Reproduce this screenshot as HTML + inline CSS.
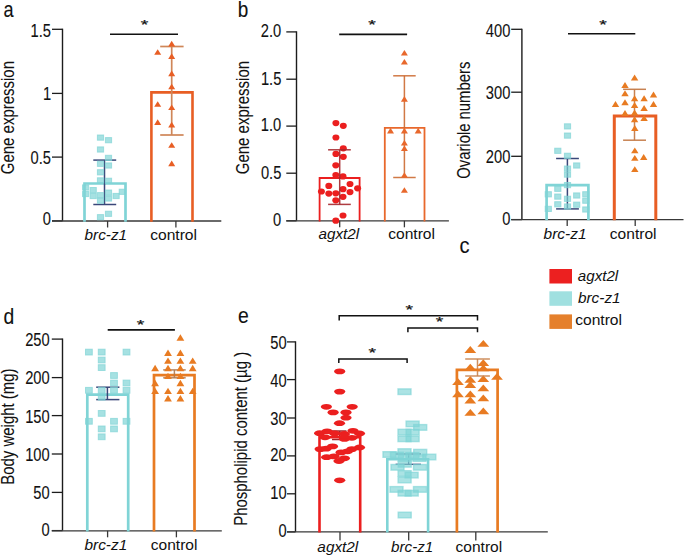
<!DOCTYPE html><html><head><meta charset="utf-8"><style>html,body{margin:0;padding:0;background:#fff;overflow:hidden}svg{display:block}</style></head><body><svg width="685" height="556" viewBox="0 0 685 556" font-family='"Liberation Sans", sans-serif'>
<rect width="685" height="556" fill="#fff"/>
<line x1="62.50" y1="28.70" x2="62.50" y2="220.90" stroke="#1c1c1c" stroke-width="1.4"/>
<line x1="52.00" y1="29.30" x2="62.50" y2="29.30" stroke="#1c1c1c" stroke-width="1.3"/>
<text transform="translate(30.58,36.50) scale(0.8400,1)" font-size="17.5" fill="#111" stroke="#111" stroke-width="0.1">1.5</text>
<line x1="52.00" y1="93.40" x2="62.50" y2="93.40" stroke="#1c1c1c" stroke-width="1.3"/>
<text transform="translate(42.95,100.40) scale(0.8400,1)" font-size="17.5" fill="#111" stroke="#111" stroke-width="0.1">1</text>
<line x1="52.00" y1="157.10" x2="62.50" y2="157.10" stroke="#1c1c1c" stroke-width="1.3"/>
<text transform="translate(30.58,163.80) scale(0.8400,1)" font-size="17.5" fill="#111" stroke="#111" stroke-width="0.1">0.5</text>
<line x1="52.00" y1="220.90" x2="62.50" y2="220.90" stroke="#1c1c1c" stroke-width="1.3"/>
<text transform="translate(42.80,225.40) scale(0.8400,1)" font-size="17.5" fill="#111" stroke="#111" stroke-width="0.1">0</text>
<line x1="52.00" y1="221.00" x2="221.30" y2="221.00" stroke="#383838" stroke-width="1.3"/>
<line x1="107.60" y1="221.00" x2="107.60" y2="227.50" stroke="#383838" stroke-width="1.3"/>
<line x1="175.90" y1="221.00" x2="175.90" y2="227.50" stroke="#383838" stroke-width="1.3"/>
<line x1="296.50" y1="31.30" x2="296.50" y2="220.80" stroke="#1c1c1c" stroke-width="1.4"/>
<line x1="286.30" y1="31.90" x2="296.50" y2="31.90" stroke="#1c1c1c" stroke-width="1.3"/>
<text transform="translate(260.84,36.50) scale(0.8400,1)" font-size="17.5" fill="#111" stroke="#111" stroke-width="0.1">2.0</text>
<line x1="286.30" y1="79.20" x2="296.50" y2="79.20" stroke="#1c1c1c" stroke-width="1.3"/>
<text transform="translate(260.88,84.60) scale(0.8400,1)" font-size="17.5" fill="#111" stroke="#111" stroke-width="0.1">1.5</text>
<line x1="286.30" y1="126.10" x2="296.50" y2="126.10" stroke="#1c1c1c" stroke-width="1.3"/>
<text transform="translate(260.84,131.10) scale(0.8400,1)" font-size="17.5" fill="#111" stroke="#111" stroke-width="0.1">1.0</text>
<line x1="286.30" y1="173.20" x2="296.50" y2="173.20" stroke="#1c1c1c" stroke-width="1.3"/>
<text transform="translate(260.88,178.70) scale(0.8400,1)" font-size="17.5" fill="#111" stroke="#111" stroke-width="0.1">0.5</text>
<line x1="286.30" y1="220.80" x2="296.50" y2="220.80" stroke="#1c1c1c" stroke-width="1.3"/>
<text transform="translate(273.10,225.70) scale(0.8400,1)" font-size="17.5" fill="#111" stroke="#111" stroke-width="0.1">0</text>
<line x1="286.30" y1="220.80" x2="448.90" y2="220.80" stroke="#383838" stroke-width="1.3"/>
<line x1="339.70" y1="220.80" x2="339.70" y2="227.30" stroke="#383838" stroke-width="1.3"/>
<line x1="404.40" y1="220.80" x2="404.40" y2="227.30" stroke="#383838" stroke-width="1.3"/>
<line x1="521.90" y1="28.70" x2="521.90" y2="219.60" stroke="#1c1c1c" stroke-width="1.4"/>
<line x1="511.20" y1="29.30" x2="521.90" y2="29.30" stroke="#1c1c1c" stroke-width="1.3"/>
<text transform="translate(485.85,36.50) scale(0.8400,1)" font-size="17.5" fill="#111" stroke="#111" stroke-width="0.1">400</text>
<line x1="511.20" y1="92.20" x2="521.90" y2="92.20" stroke="#1c1c1c" stroke-width="1.3"/>
<text transform="translate(485.85,99.10) scale(0.8400,1)" font-size="17.5" fill="#111" stroke="#111" stroke-width="0.1">300</text>
<line x1="511.20" y1="156.30" x2="521.90" y2="156.30" stroke="#1c1c1c" stroke-width="1.3"/>
<text transform="translate(485.85,163.40) scale(0.8400,1)" font-size="17.5" fill="#111" stroke="#111" stroke-width="0.1">200</text>
<line x1="511.20" y1="219.60" x2="521.90" y2="219.60" stroke="#1c1c1c" stroke-width="1.3"/>
<text transform="translate(502.20,224.70) scale(0.8400,1)" font-size="17.5" fill="#111" stroke="#111" stroke-width="0.1">0</text>
<line x1="511.20" y1="219.60" x2="683.50" y2="219.60" stroke="#383838" stroke-width="1.3"/>
<line x1="567.20" y1="219.60" x2="567.20" y2="226.10" stroke="#383838" stroke-width="1.3"/>
<line x1="635.20" y1="219.60" x2="635.20" y2="226.10" stroke="#383838" stroke-width="1.3"/>
<line x1="62.50" y1="338.50" x2="62.50" y2="530.60" stroke="#1c1c1c" stroke-width="1.4"/>
<line x1="51.80" y1="339.10" x2="62.50" y2="339.10" stroke="#1c1c1c" stroke-width="1.3"/>
<text transform="translate(25.15,345.80) scale(0.8400,1)" font-size="17.5" fill="#111" stroke="#111" stroke-width="0.1">250</text>
<line x1="51.80" y1="377.60" x2="62.50" y2="377.60" stroke="#1c1c1c" stroke-width="1.3"/>
<text transform="translate(25.15,384.10) scale(0.8400,1)" font-size="17.5" fill="#111" stroke="#111" stroke-width="0.1">200</text>
<line x1="51.80" y1="415.60" x2="62.50" y2="415.60" stroke="#1c1c1c" stroke-width="1.3"/>
<text transform="translate(25.15,422.80) scale(0.8400,1)" font-size="17.5" fill="#111" stroke="#111" stroke-width="0.1">150</text>
<line x1="51.80" y1="454.00" x2="62.50" y2="454.00" stroke="#1c1c1c" stroke-width="1.3"/>
<text transform="translate(25.15,460.50) scale(0.8400,1)" font-size="17.5" fill="#111" stroke="#111" stroke-width="0.1">100</text>
<line x1="51.80" y1="492.40" x2="62.50" y2="492.40" stroke="#1c1c1c" stroke-width="1.3"/>
<text transform="translate(33.33,499.20) scale(0.8400,1)" font-size="17.5" fill="#111" stroke="#111" stroke-width="0.1">50</text>
<line x1="51.80" y1="530.60" x2="62.50" y2="530.60" stroke="#1c1c1c" stroke-width="1.3"/>
<text transform="translate(41.50,536.20) scale(0.8400,1)" font-size="17.5" fill="#111" stroke="#111" stroke-width="0.1">0</text>
<line x1="51.80" y1="530.80" x2="221.80" y2="530.80" stroke="#383838" stroke-width="1.3"/>
<line x1="107.60" y1="530.80" x2="107.60" y2="537.30" stroke="#383838" stroke-width="1.3"/>
<line x1="176.40" y1="530.80" x2="176.40" y2="537.30" stroke="#383838" stroke-width="1.3"/>
<line x1="295.50" y1="341.30" x2="295.50" y2="531.90" stroke="#1c1c1c" stroke-width="1.4"/>
<line x1="287.00" y1="341.90" x2="295.50" y2="341.90" stroke="#1c1c1c" stroke-width="1.3"/>
<text transform="translate(270.23,348.50) scale(0.8400,1)" font-size="17.5" fill="#111" stroke="#111" stroke-width="0.1">50</text>
<line x1="287.00" y1="379.60" x2="295.50" y2="379.60" stroke="#1c1c1c" stroke-width="1.3"/>
<text transform="translate(270.23,386.80) scale(0.8400,1)" font-size="17.5" fill="#111" stroke="#111" stroke-width="0.1">40</text>
<line x1="287.00" y1="418.00" x2="295.50" y2="418.00" stroke="#1c1c1c" stroke-width="1.3"/>
<text transform="translate(270.23,424.90) scale(0.8400,1)" font-size="17.5" fill="#111" stroke="#111" stroke-width="0.1">30</text>
<line x1="287.00" y1="455.90" x2="295.50" y2="455.90" stroke="#1c1c1c" stroke-width="1.3"/>
<text transform="translate(270.23,461.10) scale(0.8400,1)" font-size="17.5" fill="#111" stroke="#111" stroke-width="0.1">20</text>
<line x1="287.00" y1="493.80" x2="295.50" y2="493.80" stroke="#1c1c1c" stroke-width="1.3"/>
<text transform="translate(270.23,499.10) scale(0.8400,1)" font-size="17.5" fill="#111" stroke="#111" stroke-width="0.1">10</text>
<line x1="287.00" y1="531.90" x2="295.50" y2="531.90" stroke="#1c1c1c" stroke-width="1.3"/>
<text transform="translate(278.40,536.70) scale(0.8400,1)" font-size="17.5" fill="#111" stroke="#111" stroke-width="0.1">0</text>
<line x1="287.00" y1="531.90" x2="547.80" y2="531.90" stroke="#383838" stroke-width="1.3"/>
<line x1="340.00" y1="531.90" x2="340.00" y2="540.40" stroke="#383838" stroke-width="1.3"/>
<line x1="408.70" y1="531.90" x2="408.70" y2="540.40" stroke="#383838" stroke-width="1.3"/>
<line x1="475.80" y1="531.90" x2="475.80" y2="540.40" stroke="#383838" stroke-width="1.3"/>
<text transform="translate(3.54,16.80) scale(0.8224,1)" font-size="22" fill="#111" stroke="#111" stroke-width="0.1" style="">a</text>
<text transform="translate(14.30,174.25) rotate(-90) scale(0.8566,1)" font-size="17.5" fill="#111" stroke="#111" stroke-width="0.1">Gene expression</text>
<path d="M84.5,221.7 L84.5,183.5 L125.5,183.5 L125.5,221.7" fill="none" stroke="#80D4D6" stroke-width="2.7"/>
<line x1="104.50" y1="160.10" x2="104.50" y2="204.50" stroke="#3A4779" stroke-width="1.5"/>
<line x1="93.30" y1="160.10" x2="116.20" y2="160.10" stroke="#3A4779" stroke-width="1.5"/>
<line x1="93.30" y1="204.50" x2="116.20" y2="204.50" stroke="#3A4779" stroke-width="1.5"/>
<rect x="97.40" y="135.00" width="6.20" height="5.20" fill="#80D4D6" fill-opacity="0.7" stroke="#80D4D6" stroke-width="1.0" stroke-opacity="0.7"/>
<rect x="105.40" y="137.60" width="6.20" height="5.20" fill="#80D4D6" fill-opacity="0.7" stroke="#80D4D6" stroke-width="1.0" stroke-opacity="0.7"/>
<rect x="97.40" y="146.90" width="6.20" height="5.20" fill="#80D4D6" fill-opacity="0.7" stroke="#80D4D6" stroke-width="1.0" stroke-opacity="0.7"/>
<rect x="105.40" y="155.30" width="6.20" height="5.20" fill="#80D4D6" fill-opacity="0.7" stroke="#80D4D6" stroke-width="1.0" stroke-opacity="0.7"/>
<rect x="97.40" y="161.20" width="6.20" height="5.20" fill="#80D4D6" fill-opacity="0.7" stroke="#80D4D6" stroke-width="1.0" stroke-opacity="0.7"/>
<rect x="105.40" y="162.90" width="6.20" height="5.20" fill="#80D4D6" fill-opacity="0.7" stroke="#80D4D6" stroke-width="1.0" stroke-opacity="0.7"/>
<rect x="97.40" y="169.70" width="6.20" height="5.20" fill="#80D4D6" fill-opacity="0.7" stroke="#80D4D6" stroke-width="1.0" stroke-opacity="0.7"/>
<rect x="97.40" y="177.80" width="6.20" height="5.20" fill="#80D4D6" fill-opacity="0.7" stroke="#80D4D6" stroke-width="1.0" stroke-opacity="0.7"/>
<rect x="105.40" y="178.20" width="6.20" height="5.20" fill="#80D4D6" fill-opacity="0.7" stroke="#80D4D6" stroke-width="1.0" stroke-opacity="0.7"/>
<rect x="82.50" y="184.90" width="6.20" height="5.20" fill="#80D4D6" fill-opacity="0.7" stroke="#80D4D6" stroke-width="1.0" stroke-opacity="0.7"/>
<rect x="82.50" y="191.40" width="6.20" height="5.20" fill="#80D4D6" fill-opacity="0.7" stroke="#80D4D6" stroke-width="1.0" stroke-opacity="0.7"/>
<rect x="90.10" y="187.50" width="6.20" height="5.20" fill="#80D4D6" fill-opacity="0.7" stroke="#80D4D6" stroke-width="1.0" stroke-opacity="0.7"/>
<rect x="90.10" y="193.40" width="6.20" height="5.20" fill="#80D4D6" fill-opacity="0.7" stroke="#80D4D6" stroke-width="1.0" stroke-opacity="0.7"/>
<rect x="97.40" y="192.60" width="6.20" height="5.20" fill="#80D4D6" fill-opacity="0.7" stroke="#80D4D6" stroke-width="1.0" stroke-opacity="0.7"/>
<rect x="97.40" y="198.10" width="6.20" height="5.20" fill="#80D4D6" fill-opacity="0.7" stroke="#80D4D6" stroke-width="1.0" stroke-opacity="0.7"/>
<rect x="105.40" y="190.00" width="6.20" height="5.20" fill="#80D4D6" fill-opacity="0.7" stroke="#80D4D6" stroke-width="1.0" stroke-opacity="0.7"/>
<rect x="105.40" y="195.90" width="6.20" height="5.20" fill="#80D4D6" fill-opacity="0.7" stroke="#80D4D6" stroke-width="1.0" stroke-opacity="0.7"/>
<rect x="113.00" y="193.40" width="6.20" height="5.20" fill="#80D4D6" fill-opacity="0.7" stroke="#80D4D6" stroke-width="1.0" stroke-opacity="0.7"/>
<rect x="119.20" y="189.20" width="6.20" height="5.20" fill="#80D4D6" fill-opacity="0.7" stroke="#80D4D6" stroke-width="1.0" stroke-opacity="0.7"/>
<rect x="97.40" y="214.60" width="6.20" height="5.20" fill="#80D4D6" fill-opacity="0.7" stroke="#80D4D6" stroke-width="1.0" stroke-opacity="0.7"/>
<rect x="105.40" y="211.20" width="6.20" height="5.20" fill="#80D4D6" fill-opacity="0.7" stroke="#80D4D6" stroke-width="1.0" stroke-opacity="0.7"/>
<path d="M151.4,221.7 L151.4,92.4 L192.5,92.4 L192.5,221.7" fill="none" stroke="#E85E24" stroke-width="2.6"/>
<line x1="171.70" y1="46.50" x2="171.70" y2="135.00" stroke="#CF8658" stroke-width="1.7"/>
<line x1="160.20" y1="46.50" x2="183.60" y2="46.50" stroke="#CF8658" stroke-width="1.7"/>
<line x1="160.20" y1="135.00" x2="183.60" y2="135.00" stroke="#CF8658" stroke-width="1.7"/>
<polygon points="168.2,46.4 175.2,46.4 171.7,40.8" fill="#E85E24"/>
<polygon points="154.2,54.8 161.2,54.8 157.7,49.2" fill="#E85E24"/>
<polygon points="168.2,58.9 175.2,58.9 171.7,53.3" fill="#E85E24"/>
<polygon points="168.2,76.2 175.2,76.2 171.7,70.6" fill="#E85E24"/>
<polygon points="168.2,89.3 175.2,89.3 171.7,83.7" fill="#E85E24"/>
<polygon points="154.2,106.8 161.2,106.8 157.7,101.2" fill="#E85E24"/>
<polygon points="168.2,110.1 175.2,110.1 171.7,104.5" fill="#E85E24"/>
<polygon points="154.2,124.9 161.2,124.9 157.7,119.3" fill="#E85E24"/>
<polygon points="168.2,127.4 175.2,127.4 171.7,121.8" fill="#E85E24"/>
<polygon points="168.2,147.8 175.2,147.8 171.7,142.2" fill="#E85E24"/>
<polygon points="168.2,166.2 175.2,166.2 171.7,160.6" fill="#E85E24"/>
<line x1="110.00" y1="34.30" x2="178.00" y2="34.30" stroke="#111" stroke-width="1.6"/>
<text transform="translate(140.64,28.78) scale(0.966,0.613)" font-size="20.0" fill="#111" stroke="#111" stroke-width="0.35">*</text>
<text transform="translate(84.59,239.60) scale(0.9874,1)" font-size="15.5" fill="#111" style="font-style:italic;">brc-z1</text>
<text transform="translate(150.14,239.90) scale(1.0083,1)" font-size="15.5" fill="#111" style="">control</text>
<text transform="translate(237.87,16.60) scale(0.8605,1)" font-size="22" fill="#111" stroke="#111" stroke-width="0.1" style="">b</text>
<text transform="translate(248.50,174.25) rotate(-90) scale(0.8573,1)" font-size="17.5" fill="#111" stroke="#111" stroke-width="0.1">Gene expression</text>
<path d="M319.6,221.39999999999998 L319.6,178 L359.6,178 L359.6,221.39999999999998" fill="none" stroke="#EB1F1F" stroke-width="1.8"/>
<ellipse cx="335.9" cy="123.1" rx="3.5" ry="3.1" fill="#EB1F1F"/>
<ellipse cx="343.3" cy="125.8" rx="3.5" ry="3.1" fill="#EB1F1F"/>
<ellipse cx="335.9" cy="137.5" rx="3.5" ry="3.1" fill="#EB1F1F"/>
<ellipse cx="343.3" cy="148.3" rx="3.5" ry="3.1" fill="#EB1F1F"/>
<ellipse cx="335.9" cy="153.9" rx="3.5" ry="3.1" fill="#EB1F1F"/>
<ellipse cx="343.3" cy="156.8" rx="3.5" ry="3.1" fill="#EB1F1F"/>
<ellipse cx="335.8" cy="165.3" rx="3.5" ry="3.1" fill="#EB1F1F"/>
<ellipse cx="335.8" cy="175.0" rx="3.5" ry="3.1" fill="#EB1F1F"/>
<ellipse cx="343.0" cy="176.4" rx="3.5" ry="3.1" fill="#EB1F1F"/>
<ellipse cx="328.8" cy="185.9" rx="3.5" ry="3.1" fill="#EB1F1F"/>
<ellipse cx="350.0" cy="184.0" rx="3.5" ry="3.1" fill="#EB1F1F"/>
<ellipse cx="321.4" cy="191.5" rx="3.5" ry="3.1" fill="#EB1F1F"/>
<ellipse cx="328.8" cy="193.6" rx="3.5" ry="3.1" fill="#EB1F1F"/>
<ellipse cx="335.8" cy="193.3" rx="3.5" ry="3.1" fill="#EB1F1F"/>
<ellipse cx="343.0" cy="189.2" rx="3.5" ry="3.1" fill="#EB1F1F"/>
<ellipse cx="350.0" cy="192.1" rx="3.5" ry="3.1" fill="#EB1F1F"/>
<ellipse cx="357.6" cy="188.3" rx="3.5" ry="3.1" fill="#EB1F1F"/>
<ellipse cx="335.8" cy="200.3" rx="3.5" ry="3.1" fill="#EB1F1F"/>
<ellipse cx="343.0" cy="196.8" rx="3.5" ry="3.1" fill="#EB1F1F"/>
<ellipse cx="343.0" cy="215.5" rx="3.5" ry="3.1" fill="#EB1F1F"/>
<ellipse cx="335.8" cy="220.7" rx="3.5" ry="3.1" fill="#EB1F1F"/>
<line x1="339.70" y1="149.80" x2="339.70" y2="204.40" stroke="#A5272C" stroke-width="1.5" stroke-opacity="0.9"/>
<line x1="328.10" y1="149.80" x2="350.80" y2="149.80" stroke="#A5272C" stroke-width="1.5" stroke-opacity="0.9"/>
<line x1="328.10" y1="204.40" x2="350.80" y2="204.40" stroke="#A5272C" stroke-width="1.5" stroke-opacity="0.9"/>
<path d="M384.8,221.39999999999998 L384.8,127.9 L424.5,127.9 L424.5,221.39999999999998" fill="none" stroke="#E8682C" stroke-width="1.8"/>
<line x1="404.40" y1="75.80" x2="404.40" y2="177.50" stroke="#CC6A32" stroke-width="1.5" stroke-opacity="0.9"/>
<line x1="393.20" y1="75.80" x2="415.70" y2="75.80" stroke="#CC6A32" stroke-width="1.5" stroke-opacity="0.9"/>
<line x1="393.20" y1="177.50" x2="415.70" y2="177.50" stroke="#CC6A32" stroke-width="1.5" stroke-opacity="0.9"/>
<polygon points="400.9,55.6 407.9,55.6 404.4,50.0" fill="#E8682C"/>
<polygon points="400.9,64.6 407.9,64.6 404.4,59.0" fill="#E8682C"/>
<polygon points="400.9,101.7 407.9,101.7 404.4,96.1" fill="#E8682C"/>
<polygon points="387.0,133.4 394.0,133.4 390.5,127.8" fill="#E8682C"/>
<polygon points="400.9,133.4 407.9,133.4 404.4,127.8" fill="#E8682C"/>
<polygon points="414.7,133.4 421.7,133.4 418.2,127.8" fill="#E8682C"/>
<polygon points="400.9,145.5 407.9,145.5 404.4,139.9" fill="#E8682C"/>
<polygon points="400.9,151.1 407.9,151.1 404.4,145.5" fill="#E8682C"/>
<polygon points="400.9,177.8 407.9,177.8 404.4,172.2" fill="#E8682C"/>
<polygon points="400.9,192.8 407.9,192.8 404.4,187.2" fill="#E8682C"/>
<line x1="339.20" y1="34.40" x2="407.10" y2="34.40" stroke="#111" stroke-width="1.6"/>
<text transform="translate(368.24,28.78) scale(0.966,0.613)" font-size="20.0" fill="#111" stroke="#111" stroke-width="0.35">*</text>
<text transform="translate(318.46,239.40) scale(0.9862,1)" font-size="15.5" fill="#111" style="font-style:italic;">agxt2l</text>
<text transform="translate(388.14,239.40) scale(1.0083,1)" font-size="15.5" fill="#111" style="">control</text>
<text transform="translate(459.45,252.60) scale(0.9154,1)" font-size="22" fill="#111" stroke="#111" stroke-width="0.1" style="">c</text>
<text transform="translate(470.00,178.80) rotate(-90) scale(0.8488,1)" font-size="17.5" fill="#111" stroke="#111" stroke-width="0.1">Ovariole numbers</text>
<path d="M546.6,220.2 L546.6,185.2 L588.4,185.2 L588.4,220.2" fill="none" stroke="#80D4D6" stroke-width="2.7"/>
<line x1="567.40" y1="158.50" x2="567.40" y2="208.90" stroke="#3A4779" stroke-width="1.5"/>
<line x1="556.10" y1="158.50" x2="578.90" y2="158.50" stroke="#3A4779" stroke-width="1.5"/>
<line x1="556.10" y1="208.90" x2="578.90" y2="208.90" stroke="#3A4779" stroke-width="1.5"/>
<rect x="564.40" y="123.80" width="6.20" height="5.20" fill="#80D4D6" fill-opacity="0.7" stroke="#80D4D6" stroke-width="1.0" stroke-opacity="0.7"/>
<rect x="564.40" y="133.00" width="6.20" height="5.20" fill="#80D4D6" fill-opacity="0.7" stroke="#80D4D6" stroke-width="1.0" stroke-opacity="0.7"/>
<rect x="554.70" y="148.20" width="6.20" height="5.20" fill="#80D4D6" fill-opacity="0.7" stroke="#80D4D6" stroke-width="1.0" stroke-opacity="0.7"/>
<rect x="564.40" y="153.20" width="6.20" height="5.20" fill="#80D4D6" fill-opacity="0.7" stroke="#80D4D6" stroke-width="1.0" stroke-opacity="0.7"/>
<rect x="573.60" y="162.90" width="6.20" height="5.20" fill="#80D4D6" fill-opacity="0.7" stroke="#80D4D6" stroke-width="1.0" stroke-opacity="0.7"/>
<rect x="564.40" y="166.00" width="6.20" height="5.20" fill="#80D4D6" fill-opacity="0.7" stroke="#80D4D6" stroke-width="1.0" stroke-opacity="0.7"/>
<rect x="564.40" y="172.00" width="6.20" height="5.20" fill="#80D4D6" fill-opacity="0.7" stroke="#80D4D6" stroke-width="1.0" stroke-opacity="0.7"/>
<rect x="564.40" y="182.50" width="6.20" height="5.20" fill="#80D4D6" fill-opacity="0.7" stroke="#80D4D6" stroke-width="1.0" stroke-opacity="0.7"/>
<rect x="545.20" y="191.70" width="6.20" height="5.20" fill="#80D4D6" fill-opacity="0.7" stroke="#80D4D6" stroke-width="1.0" stroke-opacity="0.7"/>
<rect x="554.70" y="186.20" width="6.20" height="5.20" fill="#80D4D6" fill-opacity="0.7" stroke="#80D4D6" stroke-width="1.0" stroke-opacity="0.7"/>
<rect x="554.70" y="194.00" width="6.20" height="5.20" fill="#80D4D6" fill-opacity="0.7" stroke="#80D4D6" stroke-width="1.0" stroke-opacity="0.7"/>
<rect x="564.40" y="196.20" width="6.20" height="5.20" fill="#80D4D6" fill-opacity="0.7" stroke="#80D4D6" stroke-width="1.0" stroke-opacity="0.7"/>
<rect x="573.60" y="192.90" width="6.20" height="5.20" fill="#80D4D6" fill-opacity="0.7" stroke="#80D4D6" stroke-width="1.0" stroke-opacity="0.7"/>
<rect x="582.70" y="191.70" width="6.20" height="5.20" fill="#80D4D6" fill-opacity="0.7" stroke="#80D4D6" stroke-width="1.0" stroke-opacity="0.7"/>
<rect x="545.20" y="206.30" width="6.20" height="5.20" fill="#80D4D6" fill-opacity="0.7" stroke="#80D4D6" stroke-width="1.0" stroke-opacity="0.7"/>
<rect x="554.70" y="201.70" width="6.20" height="5.20" fill="#80D4D6" fill-opacity="0.7" stroke="#80D4D6" stroke-width="1.0" stroke-opacity="0.7"/>
<rect x="564.40" y="203.90" width="6.20" height="5.20" fill="#80D4D6" fill-opacity="0.7" stroke="#80D4D6" stroke-width="1.0" stroke-opacity="0.7"/>
<rect x="573.60" y="202.10" width="6.20" height="5.20" fill="#80D4D6" fill-opacity="0.7" stroke="#80D4D6" stroke-width="1.0" stroke-opacity="0.7"/>
<rect x="582.70" y="198.10" width="6.20" height="5.20" fill="#80D4D6" fill-opacity="0.7" stroke="#80D4D6" stroke-width="1.0" stroke-opacity="0.7"/>
<rect x="582.70" y="206.90" width="6.20" height="5.20" fill="#80D4D6" fill-opacity="0.7" stroke="#80D4D6" stroke-width="1.0" stroke-opacity="0.7"/>
<path d="M614.3,220.2 L614.3,116.1 L655.8,116.1 L655.8,220.2" fill="none" stroke="#E85E24" stroke-width="3"/>
<line x1="634.50" y1="89.30" x2="634.50" y2="140.20" stroke="#C47A48" stroke-width="1.5" stroke-opacity="0.95"/>
<line x1="623.10" y1="89.30" x2="646.00" y2="89.30" stroke="#C47A48" stroke-width="1.5" stroke-opacity="0.95"/>
<line x1="623.10" y1="140.20" x2="646.00" y2="140.20" stroke="#C47A48" stroke-width="1.5" stroke-opacity="0.95"/>
<polygon points="630.9,80.5 638.3,80.5 634.6,74.6" fill="#E87B22"/>
<polygon points="621.3,88.0 628.7,88.0 625.0,82.0" fill="#E87B22"/>
<polygon points="621.3,96.2 628.7,96.2 625.0,90.3" fill="#E87B22"/>
<polygon points="630.9,101.2 638.3,101.2 634.6,95.3" fill="#E87B22"/>
<polygon points="640.4,101.2 647.8,101.2 644.1,95.3" fill="#E87B22"/>
<polygon points="649.8,97.4 657.2,97.4 653.5,91.5" fill="#E87B22"/>
<polygon points="611.8,107.0 619.2,107.0 615.5,101.1" fill="#E87B22"/>
<polygon points="621.3,105.2 628.7,105.2 625.0,99.3" fill="#E87B22"/>
<polygon points="630.9,108.0 638.3,108.0 634.6,102.0" fill="#E87B22"/>
<polygon points="640.4,110.9 647.8,110.9 644.1,105.0" fill="#E87B22"/>
<polygon points="649.8,107.0 657.2,107.0 653.5,101.1" fill="#E87B22"/>
<polygon points="621.3,115.9 628.7,115.9 625.0,110.0" fill="#E87B22"/>
<polygon points="630.9,115.4 638.3,115.4 634.6,109.5" fill="#E87B22"/>
<polygon points="640.4,121.0 647.8,121.0 644.1,115.0" fill="#E87B22"/>
<polygon points="630.9,122.2 638.3,122.2 634.6,116.2" fill="#E87B22"/>
<polygon points="631.1,131.0 638.5,131.0 634.8,125.1" fill="#E87B22"/>
<polygon points="631.1,153.2 638.5,153.2 634.8,147.4" fill="#E87B22"/>
<polygon points="631.1,160.8 638.5,160.8 634.8,154.9" fill="#E87B22"/>
<polygon points="640.0,159.9 647.4,159.9 643.7,154.1" fill="#E87B22"/>
<polygon points="631.1,172.0 638.5,172.0 634.8,166.2" fill="#E87B22"/>
<line x1="568.00" y1="33.70" x2="635.30" y2="33.70" stroke="#111" stroke-width="1.6"/>
<text transform="translate(599.34,28.78) scale(0.966,0.613)" font-size="20.0" fill="#111" stroke="#111" stroke-width="0.35">*</text>
<text transform="translate(543.58,239.30) scale(0.9994,1)" font-size="15.5" fill="#111" style="font-style:italic;">brc-z1</text>
<text transform="translate(609.85,239.30) scale(1.0039,1)" font-size="15.5" fill="#111" style="">control</text>
<rect x="549.4" y="269" width="22.6" height="14.5" fill="#EC2020"/>
<rect x="549.4" y="291.3" width="22.6" height="14.5" fill="#A0E0E0"/>
<rect x="549.4" y="314.4" width="22.6" height="14.5" fill="#E5802C"/>
<text transform="translate(577.87,281.20) scale(0.9766,1)" font-size="15.5" fill="#111" style="font-style:italic;">agxt2l</text>
<text transform="translate(577.99,303.40) scale(0.9898,1)" font-size="15.5" fill="#111" style="font-style:italic;">brc-z1</text>
<text transform="translate(575.14,325.20) scale(1.0083,1)" font-size="15.5" fill="#111" style="">control</text>
<text transform="translate(3.49,323.50) scale(0.8788,1)" font-size="22" fill="#111" stroke="#111" stroke-width="0.1" style="">d</text>
<text transform="translate(14.00,484.73) rotate(-90) scale(0.8545,1)" font-size="17.5" fill="#111" stroke="#111" stroke-width="0.1">Body weight (mg)</text>
<path d="M87.3,531.5 L87.3,394.6 L128.2,394.6 L128.2,531.5" fill="none" stroke="#80D4D6" stroke-width="2.7"/>
<line x1="107.40" y1="387.20" x2="107.40" y2="399.60" stroke="#3A4779" stroke-width="1.5"/>
<line x1="96.20" y1="387.20" x2="119.40" y2="387.20" stroke="#3A4779" stroke-width="1.5"/>
<line x1="96.20" y1="399.60" x2="119.40" y2="399.60" stroke="#3A4779" stroke-width="1.5"/>
<rect x="85.50" y="349.20" width="6.80" height="5.80" fill="#80D4D6" fill-opacity="0.7" stroke="#80D4D6" stroke-width="1.0" stroke-opacity="0.7"/>
<rect x="98.30" y="349.20" width="6.80" height="5.80" fill="#80D4D6" fill-opacity="0.7" stroke="#80D4D6" stroke-width="1.0" stroke-opacity="0.7"/>
<rect x="123.10" y="349.20" width="6.80" height="5.80" fill="#80D4D6" fill-opacity="0.7" stroke="#80D4D6" stroke-width="1.0" stroke-opacity="0.7"/>
<rect x="98.30" y="357.10" width="6.80" height="5.80" fill="#80D4D6" fill-opacity="0.7" stroke="#80D4D6" stroke-width="1.0" stroke-opacity="0.7"/>
<rect x="98.30" y="364.70" width="6.80" height="5.80" fill="#80D4D6" fill-opacity="0.7" stroke="#80D4D6" stroke-width="1.0" stroke-opacity="0.7"/>
<rect x="110.60" y="372.60" width="6.80" height="5.80" fill="#80D4D6" fill-opacity="0.7" stroke="#80D4D6" stroke-width="1.0" stroke-opacity="0.7"/>
<rect x="110.60" y="380.10" width="6.80" height="5.80" fill="#80D4D6" fill-opacity="0.7" stroke="#80D4D6" stroke-width="1.0" stroke-opacity="0.7"/>
<rect x="123.10" y="380.10" width="6.80" height="5.80" fill="#80D4D6" fill-opacity="0.7" stroke="#80D4D6" stroke-width="1.0" stroke-opacity="0.7"/>
<rect x="85.50" y="387.40" width="6.80" height="5.80" fill="#80D4D6" fill-opacity="0.7" stroke="#80D4D6" stroke-width="1.0" stroke-opacity="0.7"/>
<rect x="98.30" y="387.40" width="6.80" height="5.80" fill="#80D4D6" fill-opacity="0.7" stroke="#80D4D6" stroke-width="1.0" stroke-opacity="0.7"/>
<rect x="110.60" y="387.40" width="6.80" height="5.80" fill="#80D4D6" fill-opacity="0.7" stroke="#80D4D6" stroke-width="1.0" stroke-opacity="0.7"/>
<rect x="123.10" y="387.40" width="6.80" height="5.80" fill="#80D4D6" fill-opacity="0.7" stroke="#80D4D6" stroke-width="1.0" stroke-opacity="0.7"/>
<rect x="98.30" y="394.30" width="6.80" height="5.80" fill="#80D4D6" fill-opacity="0.7" stroke="#80D4D6" stroke-width="1.0" stroke-opacity="0.7"/>
<rect x="98.30" y="410.50" width="6.80" height="5.80" fill="#80D4D6" fill-opacity="0.7" stroke="#80D4D6" stroke-width="1.0" stroke-opacity="0.7"/>
<rect x="85.50" y="418.40" width="6.80" height="5.80" fill="#80D4D6" fill-opacity="0.7" stroke="#80D4D6" stroke-width="1.0" stroke-opacity="0.7"/>
<rect x="110.60" y="418.40" width="6.80" height="5.80" fill="#80D4D6" fill-opacity="0.7" stroke="#80D4D6" stroke-width="1.0" stroke-opacity="0.7"/>
<rect x="123.10" y="418.40" width="6.80" height="5.80" fill="#80D4D6" fill-opacity="0.7" stroke="#80D4D6" stroke-width="1.0" stroke-opacity="0.7"/>
<rect x="98.30" y="426.00" width="6.80" height="5.80" fill="#80D4D6" fill-opacity="0.7" stroke="#80D4D6" stroke-width="1.0" stroke-opacity="0.7"/>
<rect x="110.60" y="426.00" width="6.80" height="5.80" fill="#80D4D6" fill-opacity="0.7" stroke="#80D4D6" stroke-width="1.0" stroke-opacity="0.7"/>
<rect x="98.30" y="433.90" width="6.80" height="5.80" fill="#80D4D6" fill-opacity="0.7" stroke="#80D4D6" stroke-width="1.0" stroke-opacity="0.7"/>
<path d="M154,531.5 L154,375.2 L194.5,375.2 L194.5,531.5" fill="none" stroke="#E87B22" stroke-width="2.7"/>
<line x1="174.40" y1="369.90" x2="174.40" y2="377.80" stroke="#B0784E" stroke-width="1.5" stroke-opacity="0.9"/>
<line x1="163.20" y1="369.90" x2="185.70" y2="369.90" stroke="#B0784E" stroke-width="1.5" stroke-opacity="0.9"/>
<line x1="163.20" y1="377.80" x2="185.70" y2="377.80" stroke="#B0784E" stroke-width="1.5" stroke-opacity="0.9"/>
<polygon points="176.5,340.7 184.3,340.7 180.4,334.3" fill="#E87B22"/>
<polygon points="164.1,355.9 171.9,355.9 168.0,349.5" fill="#E87B22"/>
<polygon points="176.5,355.9 184.3,355.9 180.4,349.5" fill="#E87B22"/>
<polygon points="164.1,363.8 171.9,363.8 168.0,357.4" fill="#E87B22"/>
<polygon points="176.5,363.8 184.3,363.8 180.4,357.4" fill="#E87B22"/>
<polygon points="188.8,363.8 196.6,363.8 192.7,357.4" fill="#E87B22"/>
<polygon points="151.2,371.2 159.0,371.2 155.1,364.8" fill="#E87B22"/>
<polygon points="164.1,371.2 171.9,371.2 168.0,364.8" fill="#E87B22"/>
<polygon points="176.5,371.2 184.3,371.2 180.4,364.8" fill="#E87B22"/>
<polygon points="188.8,371.2 196.6,371.2 192.7,364.8" fill="#E87B22"/>
<polygon points="164.1,379.1 171.9,379.1 168.0,372.7" fill="#E87B22"/>
<polygon points="176.5,379.1 184.3,379.1 180.4,372.7" fill="#E87B22"/>
<polygon points="151.2,386.2 159.0,386.2 155.1,379.8" fill="#E87B22"/>
<polygon points="176.5,386.2 184.3,386.2 180.4,379.8" fill="#E87B22"/>
<polygon points="151.2,394.1 159.0,394.1 155.1,387.7" fill="#E87B22"/>
<polygon points="164.1,394.1 171.9,394.1 168.0,387.7" fill="#E87B22"/>
<polygon points="176.5,394.1 184.3,394.1 180.4,387.7" fill="#E87B22"/>
<polygon points="188.8,394.1 196.6,394.1 192.7,387.7" fill="#E87B22"/>
<polygon points="164.1,401.4 171.9,401.4 168.0,395.0" fill="#E87B22"/>
<polygon points="176.5,401.4 184.3,401.4 180.4,395.0" fill="#E87B22"/>
<line x1="107.70" y1="329.90" x2="174.90" y2="329.90" stroke="#111" stroke-width="1.6"/>
<text transform="translate(136.84,328.88) scale(0.966,0.613)" font-size="20.0" fill="#111" stroke="#111" stroke-width="0.35">*</text>
<text transform="translate(84.48,549.70) scale(0.9946,1)" font-size="15.5" fill="#111" style="font-style:italic;">brc-z1</text>
<text transform="translate(150.75,549.70) scale(1.0039,1)" font-size="15.5" fill="#111" style="">control</text>
<text transform="translate(237.89,323.00) scale(0.8801,1)" font-size="22" fill="#111" stroke="#111" stroke-width="0.1" style="">e</text>
<text transform="translate(247.40,525.83) rotate(-90) scale(0.8550,1)" font-size="17.5" fill="#111" stroke="#111" stroke-width="0.1">Phospholipid content (µg )</text>
<line x1="339.70" y1="431.00" x2="339.70" y2="439.50" stroke="#A5272C" stroke-width="1.5"/>
<line x1="332.00" y1="431.00" x2="346.50" y2="431.00" stroke="#A5272C" stroke-width="1.5"/>
<line x1="332.00" y1="439.50" x2="346.50" y2="439.50" stroke="#A5272C" stroke-width="1.5"/>
<ellipse cx="339.7" cy="371.4" rx="5.6" ry="2.9" fill="#EB1F1F"/>
<ellipse cx="339.7" cy="391.6" rx="5.6" ry="2.9" fill="#EB1F1F"/>
<ellipse cx="326.4" cy="406.8" rx="5.6" ry="2.9" fill="#EB1F1F"/>
<ellipse cx="352.2" cy="406.8" rx="5.6" ry="2.9" fill="#EB1F1F"/>
<ellipse cx="333.1" cy="412.4" rx="5.6" ry="2.9" fill="#EB1F1F"/>
<ellipse cx="346.0" cy="412.4" rx="5.6" ry="2.9" fill="#EB1F1F"/>
<ellipse cx="346.0" cy="417.7" rx="5.6" ry="2.9" fill="#EB1F1F"/>
<ellipse cx="339.5" cy="423.2" rx="5.6" ry="2.9" fill="#EB1F1F"/>
<ellipse cx="319.6" cy="433.2" rx="5.6" ry="2.9" fill="#EB1F1F"/>
<ellipse cx="327.1" cy="431.3" rx="5.6" ry="2.9" fill="#EB1F1F"/>
<ellipse cx="334.7" cy="433.5" rx="5.6" ry="2.9" fill="#EB1F1F"/>
<ellipse cx="344.4" cy="434.0" rx="5.6" ry="2.9" fill="#EB1F1F"/>
<ellipse cx="353.0" cy="430.8" rx="5.6" ry="2.9" fill="#EB1F1F"/>
<ellipse cx="359.5" cy="433.5" rx="5.6" ry="2.9" fill="#EB1F1F"/>
<ellipse cx="325.0" cy="437.3" rx="5.6" ry="2.9" fill="#EB1F1F"/>
<ellipse cx="344.4" cy="438.9" rx="5.6" ry="2.9" fill="#EB1F1F"/>
<ellipse cx="351.9" cy="437.8" rx="5.6" ry="2.9" fill="#EB1F1F"/>
<ellipse cx="320.1" cy="449.1" rx="5.6" ry="2.9" fill="#EB1F1F"/>
<ellipse cx="326.2" cy="448.6" rx="5.6" ry="2.9" fill="#EB1F1F"/>
<ellipse cx="332.5" cy="446.4" rx="5.6" ry="2.9" fill="#EB1F1F"/>
<ellipse cx="359.5" cy="447.5" rx="5.6" ry="2.9" fill="#EB1F1F"/>
<ellipse cx="351.9" cy="449.1" rx="5.6" ry="2.9" fill="#EB1F1F"/>
<ellipse cx="341.1" cy="452.4" rx="5.6" ry="2.9" fill="#EB1F1F"/>
<ellipse cx="347.6" cy="451.3" rx="5.6" ry="2.9" fill="#EB1F1F"/>
<ellipse cx="326.6" cy="457.2" rx="5.6" ry="2.9" fill="#EB1F1F"/>
<ellipse cx="334.0" cy="456.4" rx="5.6" ry="2.9" fill="#EB1F1F"/>
<ellipse cx="344.4" cy="458.3" rx="5.6" ry="2.9" fill="#EB1F1F"/>
<ellipse cx="339.0" cy="461.0" rx="5.6" ry="2.9" fill="#EB1F1F"/>
<ellipse cx="339.7" cy="480.3" rx="5.6" ry="2.9" fill="#EB1F1F"/>
<path d="M319.5,532.6 L319.5,437.3 L360.2,437.3 L360.2,532.6" fill="none" stroke="#EB1F1F" stroke-width="2.6"/>
<line x1="408.60" y1="454.00" x2="408.60" y2="464.30" stroke="#3A4779" stroke-width="1.3"/>
<line x1="395.60" y1="454.00" x2="421.00" y2="454.00" stroke="#3A4779" stroke-width="1.3"/>
<line x1="395.60" y1="464.30" x2="421.00" y2="464.30" stroke="#3A4779" stroke-width="1.3"/>
<rect x="398.00" y="388.90" width="13.00" height="5.60" fill="#80D4D6" fill-opacity="0.66" stroke="#80D4D6" stroke-width="1.4" stroke-opacity="0.66"/>
<rect x="406.10" y="421.10" width="13.00" height="5.60" fill="#80D4D6" fill-opacity="0.66" stroke="#80D4D6" stroke-width="1.4" stroke-opacity="0.66"/>
<rect x="413.70" y="424.60" width="13.00" height="5.60" fill="#80D4D6" fill-opacity="0.66" stroke="#80D4D6" stroke-width="1.4" stroke-opacity="0.66"/>
<rect x="398.00" y="429.30" width="13.00" height="5.60" fill="#80D4D6" fill-opacity="0.66" stroke="#80D4D6" stroke-width="1.4" stroke-opacity="0.66"/>
<rect x="406.10" y="429.30" width="13.00" height="5.60" fill="#80D4D6" fill-opacity="0.66" stroke="#80D4D6" stroke-width="1.4" stroke-opacity="0.66"/>
<rect x="398.00" y="436.00" width="13.00" height="5.60" fill="#80D4D6" fill-opacity="0.66" stroke="#80D4D6" stroke-width="1.4" stroke-opacity="0.66"/>
<rect x="406.10" y="436.00" width="13.00" height="5.60" fill="#80D4D6" fill-opacity="0.66" stroke="#80D4D6" stroke-width="1.4" stroke-opacity="0.66"/>
<rect x="398.00" y="448.80" width="13.00" height="5.60" fill="#80D4D6" fill-opacity="0.66" stroke="#80D4D6" stroke-width="1.4" stroke-opacity="0.66"/>
<rect x="413.70" y="449.40" width="13.00" height="5.60" fill="#80D4D6" fill-opacity="0.66" stroke="#80D4D6" stroke-width="1.4" stroke-opacity="0.66"/>
<rect x="383.00" y="451.70" width="13.00" height="5.60" fill="#80D4D6" fill-opacity="0.66" stroke="#80D4D6" stroke-width="1.4" stroke-opacity="0.66"/>
<rect x="390.50" y="452.20" width="13.00" height="5.60" fill="#80D4D6" fill-opacity="0.66" stroke="#80D4D6" stroke-width="1.4" stroke-opacity="0.66"/>
<rect x="422.80" y="454.20" width="13.00" height="5.60" fill="#80D4D6" fill-opacity="0.66" stroke="#80D4D6" stroke-width="1.4" stroke-opacity="0.66"/>
<rect x="405.90" y="452.50" width="13.00" height="5.60" fill="#80D4D6" fill-opacity="0.66" stroke="#80D4D6" stroke-width="1.4" stroke-opacity="0.66"/>
<rect x="398.20" y="455.40" width="13.00" height="5.60" fill="#80D4D6" fill-opacity="0.66" stroke="#80D4D6" stroke-width="1.4" stroke-opacity="0.66"/>
<rect x="413.00" y="455.80" width="13.00" height="5.60" fill="#80D4D6" fill-opacity="0.66" stroke="#80D4D6" stroke-width="1.4" stroke-opacity="0.66"/>
<rect x="398.20" y="461.50" width="13.00" height="5.60" fill="#80D4D6" fill-opacity="0.66" stroke="#80D4D6" stroke-width="1.4" stroke-opacity="0.66"/>
<rect x="391.00" y="464.50" width="13.00" height="5.60" fill="#80D4D6" fill-opacity="0.66" stroke="#80D4D6" stroke-width="1.4" stroke-opacity="0.66"/>
<rect x="413.50" y="464.50" width="13.00" height="5.60" fill="#80D4D6" fill-opacity="0.66" stroke="#80D4D6" stroke-width="1.4" stroke-opacity="0.66"/>
<rect x="398.10" y="470.70" width="13.00" height="5.60" fill="#80D4D6" fill-opacity="0.66" stroke="#80D4D6" stroke-width="1.4" stroke-opacity="0.66"/>
<rect x="405.10" y="472.30" width="13.00" height="5.60" fill="#80D4D6" fill-opacity="0.66" stroke="#80D4D6" stroke-width="1.4" stroke-opacity="0.66"/>
<rect x="398.10" y="477.20" width="13.00" height="5.60" fill="#80D4D6" fill-opacity="0.66" stroke="#80D4D6" stroke-width="1.4" stroke-opacity="0.66"/>
<rect x="390.00" y="486.60" width="13.00" height="5.60" fill="#80D4D6" fill-opacity="0.66" stroke="#80D4D6" stroke-width="1.4" stroke-opacity="0.66"/>
<rect x="413.50" y="486.60" width="13.00" height="5.60" fill="#80D4D6" fill-opacity="0.66" stroke="#80D4D6" stroke-width="1.4" stroke-opacity="0.66"/>
<rect x="398.10" y="490.40" width="13.00" height="5.60" fill="#80D4D6" fill-opacity="0.66" stroke="#80D4D6" stroke-width="1.4" stroke-opacity="0.66"/>
<rect x="405.20" y="490.40" width="13.00" height="5.60" fill="#80D4D6" fill-opacity="0.66" stroke="#80D4D6" stroke-width="1.4" stroke-opacity="0.66"/>
<rect x="398.20" y="512.20" width="13.00" height="5.60" fill="#80D4D6" fill-opacity="0.66" stroke="#80D4D6" stroke-width="1.4" stroke-opacity="0.66"/>
<path d="M387.3,532.6 L387.3,459.3 L428.1,459.3 L428.1,532.6" fill="none" stroke="#80D4D6" stroke-width="2.6"/>
<polygon points="477.4,346.8 489.2,346.8 483.3,340.0" fill="#E87B22"/>
<polygon points="464.4,352.9 476.2,352.9 470.3,346.1" fill="#E87B22"/>
<polygon points="477.4,366.0 489.2,366.0 483.3,359.2" fill="#E87B22"/>
<polygon points="464.4,370.5 476.2,370.5 470.3,363.7" fill="#E87B22"/>
<polygon points="477.4,371.3 489.2,371.3 483.3,364.5" fill="#E87B22"/>
<polygon points="491.1,379.7 502.9,379.7 497.0,372.9" fill="#E87B22"/>
<polygon points="464.4,382.8 476.2,382.8 470.3,376.0" fill="#E87B22"/>
<polygon points="477.4,382.0 489.2,382.0 483.3,375.2" fill="#E87B22"/>
<polygon points="452.1,385.1 463.9,385.1 458.0,378.3" fill="#E87B22"/>
<polygon points="464.4,388.1 476.2,388.1 470.3,381.3" fill="#E87B22"/>
<polygon points="477.4,391.2 489.2,391.2 483.3,384.4" fill="#E87B22"/>
<polygon points="452.1,397.3 463.9,397.3 458.0,390.5" fill="#E87B22"/>
<polygon points="464.4,397.3 476.2,397.3 470.3,390.5" fill="#E87B22"/>
<polygon points="464.4,403.4 476.2,403.4 470.3,396.6" fill="#E87B22"/>
<polygon points="477.4,401.2 489.2,401.2 483.3,394.4" fill="#E87B22"/>
<polygon points="464.4,415.7 476.2,415.7 470.3,408.9" fill="#E87B22"/>
<polygon points="477.4,414.2 489.2,414.2 483.3,407.4" fill="#E87B22"/>
<line x1="477.50" y1="359.00" x2="477.50" y2="376.00" stroke="#C9834E" stroke-width="1.5" stroke-opacity="0.9"/>
<line x1="465.20" y1="359.00" x2="489.90" y2="359.00" stroke="#C9834E" stroke-width="1.5" stroke-opacity="0.9"/>
<line x1="465.20" y1="376.00" x2="489.90" y2="376.00" stroke="#C9834E" stroke-width="1.5" stroke-opacity="0.9"/>
<path d="M456.9,532.6 L456.9,369.8 L497.6,369.8 L497.6,532.6" fill="none" stroke="#E87B22" stroke-width="2.7"/>
<path d="M339.2,320.6 L339.2,315.7 L477.5,315.7 L477.5,320.6" fill="none" stroke="#111" stroke-width="1.5"/>
<path d="M407.9,332.2 L407.9,327.9 L477.5,327.9 L477.5,332.2" fill="none" stroke="#111" stroke-width="1.5"/>
<path d="M338.8,363 L338.8,359 L407.1,359 L407.1,363" fill="none" stroke="#111" stroke-width="1.5"/>
<text transform="translate(405.54,314.08) scale(0.966,0.613)" font-size="20.0" fill="#111" stroke="#111" stroke-width="0.35">*</text>
<text transform="translate(435.64,326.38) scale(0.966,0.613)" font-size="20.0" fill="#111" stroke="#111" stroke-width="0.35">*</text>
<text transform="translate(368.44,357.48) scale(0.966,0.613)" font-size="20.0" fill="#111" stroke="#111" stroke-width="0.35">*</text>
<text transform="translate(317.36,552.30) scale(0.9887,1)" font-size="15.5" fill="#111" style="font-style:italic;">agxt2l</text>
<text transform="translate(390.99,552.30) scale(0.9826,1)" font-size="15.5" fill="#111" style="font-style:italic;">brc-z1</text>
<text transform="translate(455.55,552.30) scale(1.0039,1)" font-size="15.5" fill="#111" style="">control</text>
</svg></body></html>
